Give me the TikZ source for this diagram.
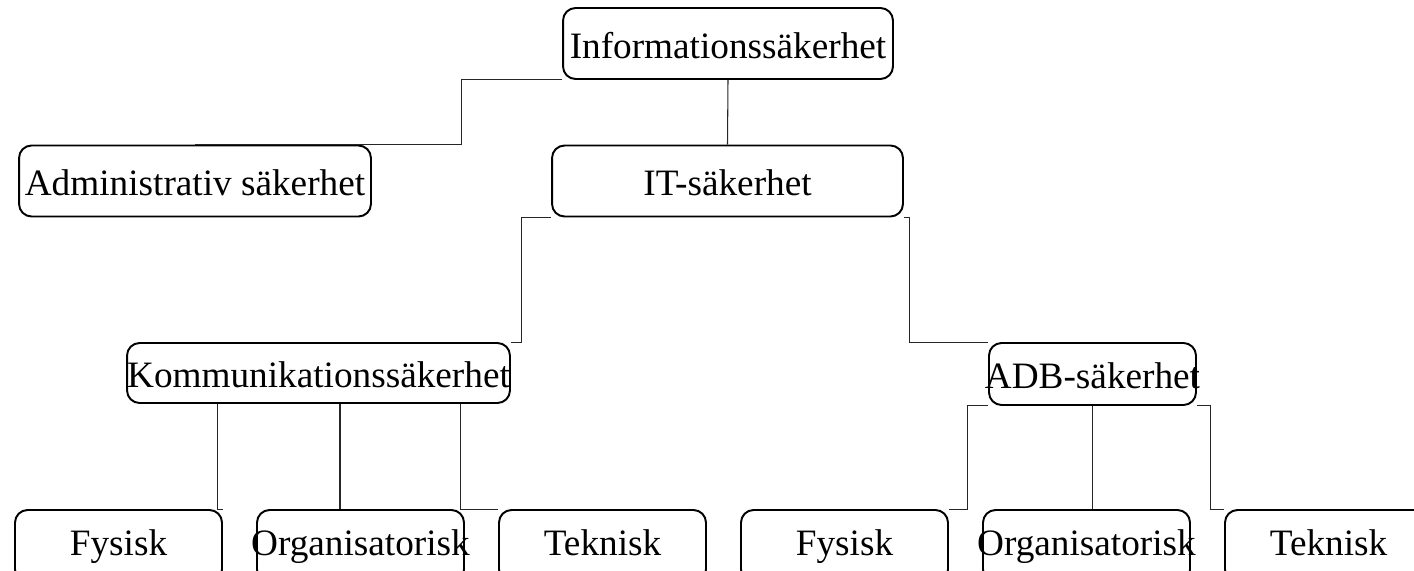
\documentclass[tikz,border=0pt]{standalone}
\usepackage{fontspec}
\setmainfont{Liberation Serif}
\usetikzlibrary{calc}
\newcommand{\mitt}[1]{\makebox[0pt]{#1}}
\tikzset{
	ruta/.style={draw, line width=1.1pt, rounded corners=0.25cm, inner sep=0pt,
		minimum height=1.42cm, text height=21pt, text depth=4pt,
		font=\fontsize{21.2}{25}\selectfont},
	liten/.style={ruta, minimum width=4.14cm, minimum height=1.44cm, text height=16pt, text depth=5pt},
	gren/.style={line width=0.6pt, black!85}
}
\begin{document}
\begin{tikzpicture}[x=0.02cm, y=-0.02cm]
	\useasboundingbox (0,0) rectangle (1414,571);
	\clip (0,0) rectangle (1414,571);
	
	% Noder
	\node[ruta, minimum width=6.6cm] (info) at (728,43.5) {\mitt{Informationssäkerhet}};
	\node[ruta, minimum width=7.04cm] (admin) at (195,181) {\mitt{Administrativ säkerhet}};
	\node[ruta, minimum width=7.02cm] (it) at (727.5,181) {\mitt{IT-säkerhet}};
	\node[ruta, minimum width=7.66cm, minimum height=1.2cm] (komm) at (318.5,373) {\mitt{Kommunikationssäkerhet}};
	\node[ruta, minimum width=4.14cm, minimum height=1.24cm] (adb) at (1092.5,374) {\mitt{ADB-säkerhet}};
	
	\node[liten] (fys1) at (118.5,546) {\mitt{Fysisk}};
	\node[liten] (org1) at (360.5,546) {\mitt{Organisatorisk}};
	\node[liten] (tek1) at (602.5,546) {\mitt{Teknisk}};
	\node[liten] (fys2) at (844.5,546) {\mitt{Fysisk}};
	\node[liten] (org2) at (1086.5,546) {\mitt{Organisatorisk}};
	\node[liten] (tek2) at (1328.5,546) {\mitt{Teknisk}};
	
	% Linjer
	\draw[gren] (info.south west) -- ++(-101,0) |- (admin.north);
	\draw[gren] (info.south) -- (it.north);
	\draw[gren] (it.south west) -- ++(-30,0) |- (komm.north east);
	\draw[gren] (it.south east) -- ++(6,0) |- (adb.north west);
	
	\draw[gren] ($(komm.south west)+(91,0)$) |- (fys1.north east);
	\draw[gren] ($(komm.south)+(21.5,0)$) coordinate (k2) -- (k2 |- org1.north);
	\draw[gren] ($(komm.south east)+(-50,0)$) |- (tek1.north west);
	
	\draw[gren] (adb.south west) -- ++(-21,0) |- (fys2.north east);
	\draw[gren] (adb.south) -- (adb.south |- org2.north);
	\draw[gren] (adb.south east) -- ++(14,0) |- (tek2.north west);
\end{tikzpicture}
\end{document}
